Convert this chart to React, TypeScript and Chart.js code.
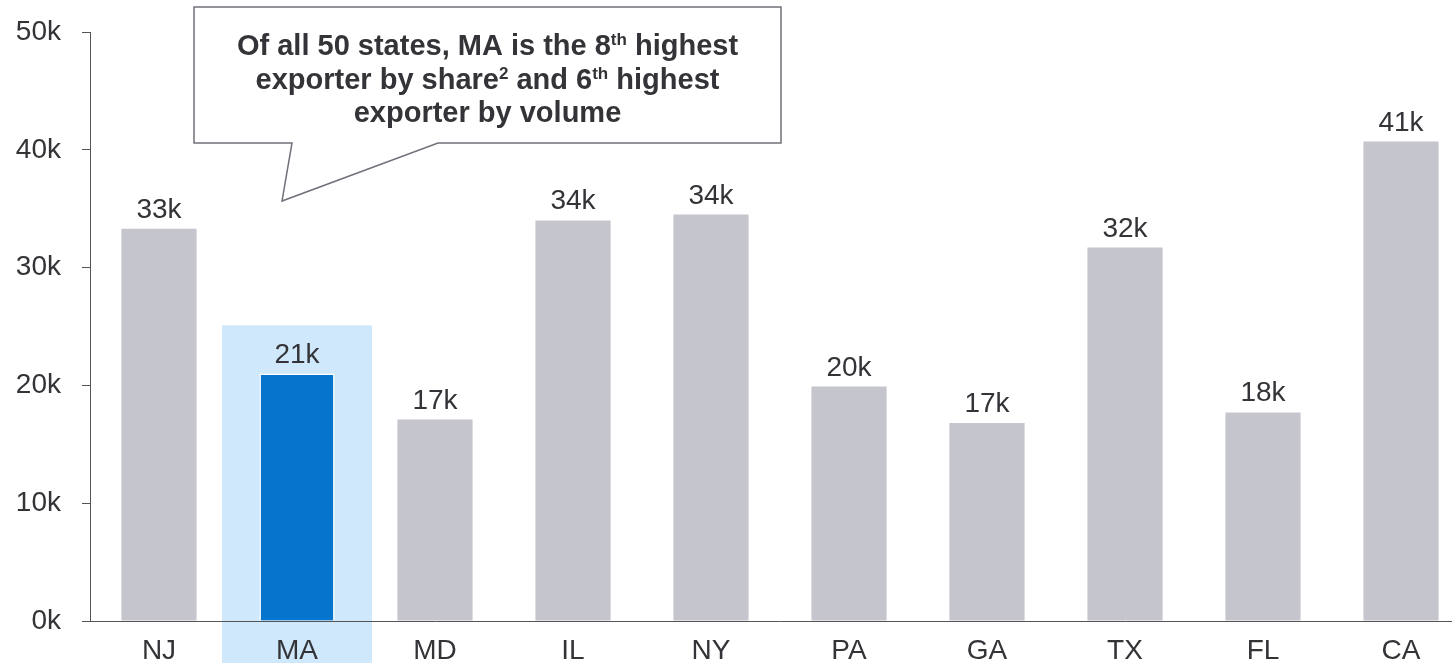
import React, { useEffect, useRef } from "react";
import { Chart, registerables } from "chart.js";

Chart.register(...registerables);

const categories = ["NJ", "MA", "MD", "IL", "NY", "PA", "GA", "TX", "FL", "CA"];
const values = [33.3, 21.0, 17.1, 34.0, 34.5, 19.9, 16.8, 31.7, 17.7, 40.7];
const valueLabels = ["33k", "21k", "17k", "34k", "34k", "20k", "17k", "32k", "18k", "41k"];
const yMin = 0;
const yMax = 50;
const yStep = 10;
const highlightIndex = 1;
const highlightTop = 25.1;

type Seg = { t: string; sup?: boolean };
const calloutLines: Seg[][] = [
  [{ t: "Of all 50 states, MA is the 8" }, { t: "th", sup: true }, { t: " highest" }],
  [{ t: "exporter by share" }, { t: "2", sup: true }, { t: " and 6" }, { t: "th", sup: true }, { t: " highest" }],
  [{ t: "exporter by volume" }],
];

const FONT = "'Liberation Sans', Arial, sans-serif";
const TEXT = "#333338";
const GRAY = "#c5c5cd";
const BLUE = "#0474cc";
const HIGHLIGHT = "#cfe8fb";
const AXIS = "#555";

const highlightPlugin = {
  id: "highlight",
  beforeDraw(chart: any) {
    const { ctx, scales } = chart;
    const x = scales.x;
    const y = scales.y;
    const cw = x.getPixelForValue(1) - x.getPixelForValue(0);
    const cx = x.getPixelForValue(highlightIndex);
    const w = cw * 1.087;
    const top = y.getPixelForValue(highlightTop);
    ctx.save();
    ctx.fillStyle = HIGHLIGHT;
    ctx.fillRect(cx - w / 2, top, w, chart.height - top);
    ctx.restore();
  },
};

const labelPlugin = {
  id: "valueLabels",
  afterDatasetsDraw(chart: any) {
    const { ctx } = chart;
    const meta = chart.getDatasetMeta(0);
    ctx.save();
    ctx.font = `28px ${FONT}`;
    ctx.fillStyle = TEXT;
    ctx.textAlign = "center";
    ctx.textBaseline = "alphabetic";
    meta.data.forEach((bar: any, i: number) => {
      ctx.fillText(valueLabels[i], bar.x, bar.y - 11);
    });
    ctx.restore();
  },
};

const calloutPlugin = {
  id: "callout",
  afterDraw(chart: any) {
    const { ctx } = chart;
    const L = 194, R = 781, T = 7, B = 143;
    ctx.save();
    ctx.beginPath();
    ctx.moveTo(L, T);
    ctx.lineTo(R, T);
    ctx.lineTo(R, B);
    ctx.lineTo(438, B);
    ctx.lineTo(282, 201);
    ctx.lineTo(292, B);
    ctx.lineTo(L, B);
    ctx.closePath();
    ctx.fillStyle = "#ffffff";
    ctx.fill();
    ctx.strokeStyle = "#70707a";
    ctx.lineWidth = 1.5;
    ctx.stroke();

    const size = 29;
    const supSize = 17;
    const cx = (L + R) / 2;
    const baselines = [55, 88.5, 122];
    ctx.fillStyle = TEXT;
    ctx.textBaseline = "alphabetic";
    ctx.textAlign = "left";
    calloutLines.forEach((line, li) => {
      let total = 0;
      const widths = line.map((s) => {
        ctx.font = `bold ${s.sup ? supSize : size}px ${FONT}`;
        const w = ctx.measureText(s.t).width;
        total += w;
        return w;
      });
      let x = cx - total / 2;
      line.forEach((s, si) => {
        ctx.font = `bold ${s.sup ? supSize : size}px ${FONT}`;
        ctx.fillText(s.t, x, baselines[li] - (s.sup ? 10 : 0));
        x += widths[si];
      });
    });
    ctx.restore();
  },
};

export default function App() {
  const ref = useRef<HTMLCanvasElement>(null);

  useEffect(() => {
    if (!ref.current) return;
    const chart = new Chart(ref.current, {
      type: "bar",
      data: {
        labels: categories,
        datasets: [
          {
            data: values,
            backgroundColor: categories.map((_, i) => (i === highlightIndex ? BLUE : GRAY)),
            borderColor: "#ffffff",
            borderWidth: categories.map((_, i) => (i === highlightIndex ? 1.5 : 0)),
            barPercentage: 0.545,
            categoryPercentage: 1,
          },
        ],
      },
      options: {
        animation: false,
        responsive: false,
        layout: { padding: { top: 32, right: 10, left: 0, bottom: 0 } },
        plugins: {
          legend: { display: false },
          tooltip: { enabled: false },
        },
        scales: {
          x: {
            offset: true,
            grid: { display: false, drawTicks: false },
            border: { display: true, color: AXIS, width: 1 },
            ticks: {
              font: { family: FONT, size: 28 },
              color: TEXT,
              padding: 13,
              maxRotation: 0,
              autoSkip: false,
            },
            afterFit(s: any) {
              s.height = 42;
              s.paddingLeft = 0;
              s.paddingRight = 0;
            },
          },
          y: {
            min: yMin,
            max: yMax,
            grid: {
              drawOnChartArea: false,
              drawTicks: true,
              tickLength: 8,
              color: AXIS,
            },
            border: { display: true, color: AXIS, width: 1 },
            ticks: {
              stepSize: yStep,
              font: { family: FONT, size: 28 },
              color: TEXT,
              padding: 21,
              callback: (v: any) => `${v}k`,
            },
            afterFit(s: any) {
              s.width = 90;
              s.paddingTop = 0;
              s.paddingBottom = 0;
            },
          },
        },
      },
      plugins: [highlightPlugin, labelPlugin, calloutPlugin],
    });
    return () => chart.destroy();
  }, []);

  return (
    <div
      style={{
        position: "absolute",
        left: 0,
        top: 0,
        width: 1452,
        height: 663,
        overflow: "hidden",
        background: "#fff",
      }}
    >
      <canvas ref={ref} width={1480} height={663} style={{ display: "block" }} />
    </div>
  );
}
